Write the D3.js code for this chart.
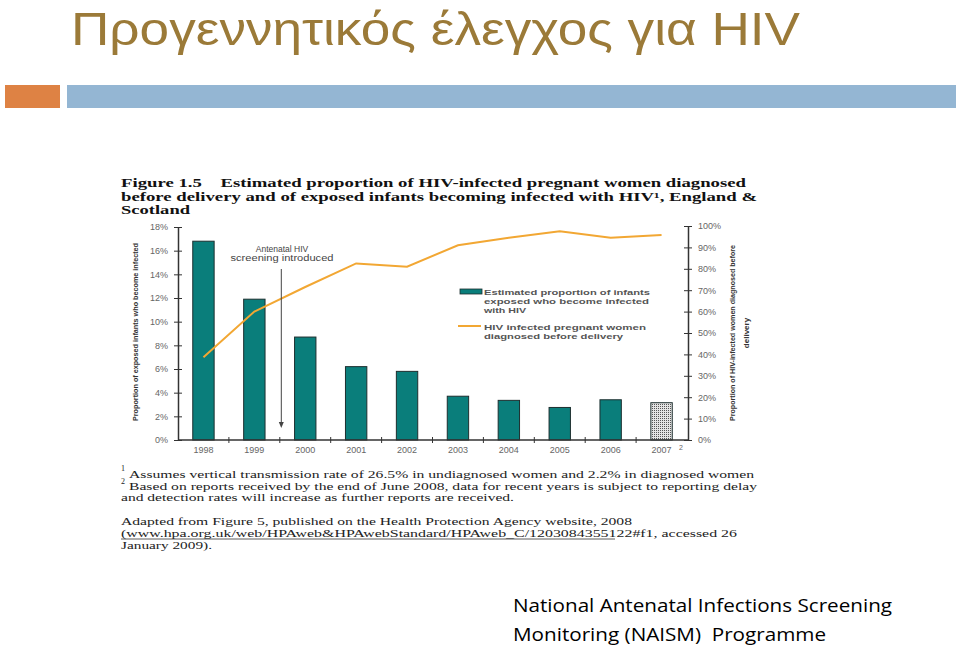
<!DOCTYPE html>
<html><head><meta charset="utf-8">
<script src="https://cdn.jsdelivr.net/npm/d3@7"></script>
<style>body{margin:0;background:#fff;}svg{display:block;}text{white-space:pre;}</style>
</head><body>
<svg id="c" width="960" height="648"></svg>
<script>
const years = ["1998","1999","2000","2001","2002","2003","2004","2005","2006","2007"];
const infectedPct = [16.8, 11.9, 8.7, 6.2, 5.8, 3.7, 3.35, 2.75, 3.4, 3.15];
const diagnosedPct = [38.7, 60, 71.5, 82.5, 81, 91, 94.5, 97.5, 94.5, 95.8];
const leftTicks = [0,2,4,6,8,10,12,14,16,18];
const rightTicks = [0,10,20,30,40,50,60,70,80,90,100];
const provisional = ["2007"];

const svg = d3.select("#c");
const sans = "Arial, 'Liberation Sans', sans-serif";
const serif = "'Liberation Serif', 'Times New Roman', serif";
const cal = "'Open Sans', 'Noto Sans', sans-serif";

// slide header
svg.append("text").attr("x",71).attr("y",45).attr("font-family","'Liberation Sans', Arial, sans-serif").attr("font-size",47)
  .attr("fill","#9B7A38").attr("textLength",729).attr("lengthAdjust","spacingAndGlyphs")
  .text("Προγεννητικός έλεγχος για HIV");
svg.append("rect").attr("x",5).attr("y",85).attr("width",55).attr("height",23).attr("fill","#DE8244");
svg.append("rect").attr("x",67).attr("y",85).attr("width",889).attr("height",23).attr("fill","#94B6D3");

// figure title
const ft = [
  {t:"Figure 1.5    Estimated proportion of HIV-infected pregnant women diagnosed", y:187, w:625},
  {t:"before delivery and of exposed infants becoming infected with HIV¹, England &", y:201, w:636},
  {t:"Scotland", y:214, w:69}
];
svg.selectAll(".ft").data(ft).join("text").attr("x",121).attr("y",d=>d.y)
  .attr("font-family",serif).attr("font-weight","bold").attr("font-size",12).attr("fill","#111")
  .attr("textLength",d=>d.w).attr("lengthAdjust","spacingAndGlyphs").text(d=>d.t);

// scales
const x = d3.scaleBand().domain(years).range([178,687]).paddingInner(0.58).paddingOuter(0.29);
const slot = d3.scaleBand().domain(years).range([178,687]);
const yL = d3.scaleLinear().domain([0,18]).range([440,227]);
const yR = d3.scaleLinear().domain([0,100]).range([440,226]);

// pattern for provisional bar
const defs = svg.append("defs");
const pat = defs.append("pattern").attr("id","dots").attr("patternUnits","userSpaceOnUse").attr("width",2).attr("height",2);
pat.append("rect").attr("width",2).attr("height",2).attr("fill","#e4e4e4");
pat.append("rect").attr("width",1).attr("height",1).attr("fill","#555");

// bars
const data = years.map((y,i)=>({y, v:infectedPct[i], d:diagnosedPct[i]}));
svg.selectAll(".bar").data(data).join("rect")
  .attr("x",d=>x(d.y)).attr("width",x.bandwidth())
  .attr("y",d=>yL(d.v)).attr("height",d=>yL(0)-yL(d.v))
  .attr("fill",d=>provisional.includes(d.y)?"url(#dots)":"#0A7E7B")
  .attr("stroke","#1d2f2f").attr("stroke-width",1);

// line
const line = d3.line().x(d=>x(d.y)+x.bandwidth()/2).y(d=>yR(d.d));
svg.append("path").datum(data).attr("d",line).attr("fill","none").attr("stroke","#F2A733").attr("stroke-width",2);

// axes
const axStyle = g => {
  g.selectAll("path.domain").attr("stroke","#333").attr("stroke-width",1.5);
  g.selectAll(".tick line").attr("stroke","#333").attr("stroke-width",1);
  g.selectAll("text").attr("font-family",sans).attr("font-size",9).attr("fill","#666");
};
const gL = svg.append("g").attr("transform","translate(178,0)")
  .call(d3.axisLeft(yL).tickValues(leftTicks).tickFormat(d=>d+"%").tickSize(4).tickSizeOuter(0).tickPadding(6));
gL.selectAll(".tick line").attr("x1",4);
axStyle(gL);
const gR = svg.append("g").attr("transform","translate(688,0)")
  .call(d3.axisRight(yR).tickValues(rightTicks).tickFormat(d=>d+"%").tickSize(4).tickSizeOuter(0).tickPadding(6));
gR.selectAll(".tick line").attr("x1",-4);
axStyle(gR);
const gX = svg.append("g").attr("transform","translate(0,440)")
  .call(d3.axisBottom(x).tickSize(0).tickPadding(7));
axStyle(gX);
gX.select("path.domain").attr("d","M178,0H688");
// boundary ticks between categories
svg.selectAll(".bt").data(years.slice(1)).join("line")
  .attr("x1",d=>slot(d)).attr("x2",d=>slot(d)).attr("y1",437).attr("y2",443)
  .attr("stroke","#333").attr("stroke-width",1);
svg.append("text").attr("x",679).attr("y",450).attr("font-family",sans).attr("font-size",7).attr("fill","#666").text("2");

// axis titles
svg.append("text").attr("transform","translate(138,332) rotate(-90)").attr("text-anchor","middle")
  .attr("font-family",sans).attr("font-size",8).attr("font-weight","bold").attr("fill","#333")
  .attr("textLength",178).attr("lengthAdjust","spacingAndGlyphs")
  .text("Proportion of exposed infants who become infected");
svg.append("text").attr("transform","translate(735,333) rotate(-90)").attr("text-anchor","middle")
  .attr("font-family",sans).attr("font-size",8).attr("font-weight","bold").attr("fill","#333")
  .attr("textLength",176).attr("lengthAdjust","spacingAndGlyphs")
  .text("Proportion of HIV-infected women diagnosed before");
svg.append("text").attr("transform","translate(749,333) rotate(-90)").attr("text-anchor","middle")
  .attr("font-family",sans).attr("font-size",8).attr("font-weight","bold").attr("fill","#333")
  .text("delivery");

// annotation
svg.append("text").attr("x",282).attr("y",252).attr("text-anchor","middle").attr("font-family",sans)
  .attr("font-size",8.5).attr("fill","#444").text("Antenatal HIV");
svg.append("text").attr("x",282).attr("y",261).attr("text-anchor","middle").attr("font-family",sans)
  .attr("font-size",8.5).attr("fill","#444").attr("textLength",103).attr("lengthAdjust","spacingAndGlyphs").text("screening introduced");
const ax = slot("2000")+1.5;
svg.append("line").attr("x1",ax).attr("x2",ax).attr("y1",269).attr("y2",424).attr("stroke","#444").attr("stroke-width",1);
svg.append("path").attr("d",`M${ax-2.5},422L${ax+2.5},422L${ax},428Z`).attr("fill","#444");

// legend
svg.append("rect").attr("x",460).attr("y",289).attr("width",22).attr("height",5).attr("fill","#0A7E7B").attr("stroke","#1d2f2f").attr("stroke-width",0.8);
svg.append("line").attr("x1",458).attr("x2",481).attr("y1",326).attr("y2",326).attr("stroke","#F2A733").attr("stroke-width",2);
const leg = [
  {t:"Estimated proportion of infants", y:295, w:166},
  {t:"exposed who become infected", y:304, w:165},
  {t:"with HIV", y:313, w:42},
  {t:"HIV infected pregnant women", y:330, w:162},
  {t:"diagnosed before delivery", y:339, w:139}
];
svg.selectAll(".lg").data(leg).join("text").attr("x",484).attr("y",d=>d.y)
  .attr("font-family",sans).attr("font-size",8).attr("font-weight","bold").attr("fill","#555")
  .attr("textLength",d=>d.w).attr("lengthAdjust","spacingAndGlyphs").text(d=>d.t);

// footnotes
const fn = [
  {t:"Assumes vertical transmission rate of 26.5% in undiagnosed women and 2.2% in diagnosed women", x:129, y:478, w:625},
  {t:"Based on reports received by the end of June 2008, data for recent years is subject to reporting delay", x:129, y:490, w:628},
  {t:"and detection rates will increase as further reports are received.", x:121, y:501, w:393},
  {t:"Adapted from Figure 5, published on the Health Protection Agency website, 2008", x:121, y:525, w:511},
  {t:"(www.hpa.org.uk/web/HPAweb&HPAwebStandard/HPAweb_C/1203084355122#f1, accessed 26", x:121, y:537, w:616},
  {t:"January 2009).", x:121, y:549, w:91}
];
svg.selectAll(".fn").data(fn).join("text").attr("x",d=>d.x).attr("y",d=>d.y)
  .attr("font-family",serif).attr("font-size",11).attr("fill","#222")
  .attr("textLength",d=>d.w).attr("lengthAdjust","spacingAndGlyphs").text(d=>d.t);
svg.append("text").attr("x",121).attr("y",471).attr("font-family",serif).attr("font-size",8).attr("fill","#222").text("1");
svg.append("text").attr("x",121).attr("y",484).attr("font-family",serif).attr("font-size",8).attr("fill","#222").text("2");
svg.append("line").attr("x1",121).attr("x2",615).attr("y1",539).attr("y2",539).attr("stroke","#333").attr("stroke-width",0.8);

// bottom caption
svg.append("text").attr("x",513).attr("y",612).attr("font-family",cal).attr("font-size",19).attr("fill","#000")
  .attr("textLength",379).attr("lengthAdjust","spacingAndGlyphs").text("National Antenatal Infections Screening");
svg.append("text").attr("x",513).attr("y",641).attr("font-family",cal).attr("font-size",19).attr("fill","#000")
  .attr("textLength",313).attr("lengthAdjust","spacingAndGlyphs").text("Monitoring (NAISM)  Programme");
</script>
</body></html>
